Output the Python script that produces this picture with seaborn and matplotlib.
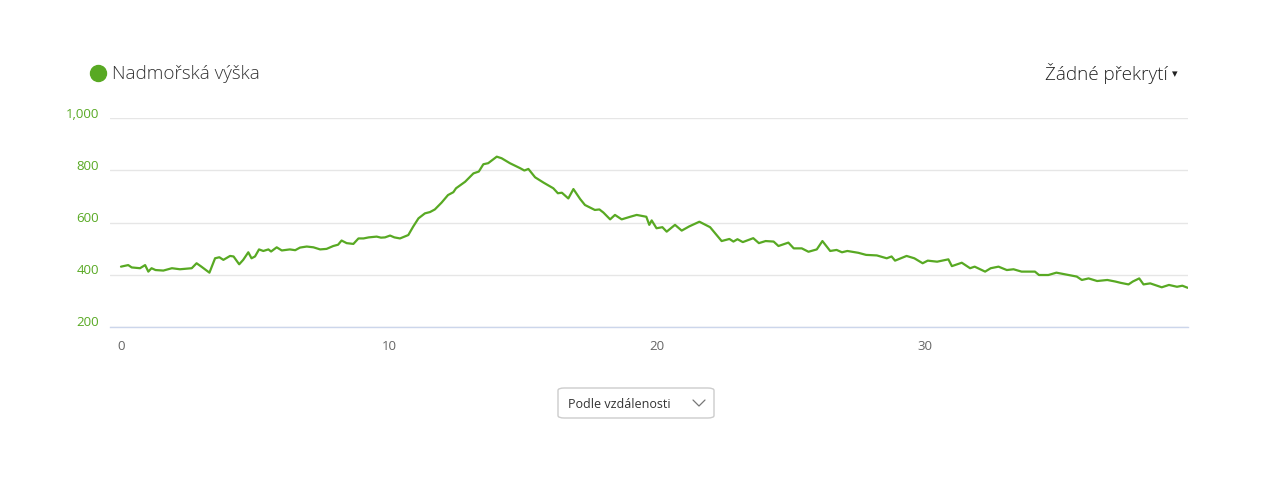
import matplotlib
matplotlib.use("Agg")
import matplotlib.pyplot as plt
from matplotlib.patches import FancyBboxPatch
from matplotlib.transforms import ScaledTranslation
import pandas as pd
import seaborn as sns

# elevation profile (km, metres)
distance_km = [
    0.0, 0.27, 0.4, 0.71, 0.9, 1.02, 1.14, 1.29, 1.58, 1.9, 2.2, 2.64, 2.82, 3.0, 3.3,
    3.51, 3.67, 3.82, 4.07, 4.2, 4.41, 4.56, 4.75, 4.87, 5.0, 5.15, 5.31, 5.5, 5.6,
    5.81, 6.0, 6.3, 6.5, 6.68, 6.93, 7.18, 7.43, 7.67, 7.92, 8.1, 8.23, 8.42, 8.67,
    8.86, 9.05, 9.24, 9.54, 9.7, 9.85, 10.04, 10.2, 10.41, 10.72, 10.9, 11.1, 11.34,
    11.53, 11.71, 11.96, 12.2, 12.4, 12.5, 12.84, 13.15, 13.35, 13.52, 13.7, 14.02,
    14.2, 14.51, 14.89, 15.05, 15.2, 15.45, 15.76, 16.13, 16.3, 16.45, 16.69, 16.88,
    17.13, 17.31, 17.5, 17.68, 17.85, 18.0, 18.25, 18.43, 18.68, 19.0, 19.24, 19.45,
    19.6, 19.71, 19.8, 19.98, 20.2, 20.36, 20.67, 20.92, 21.2, 21.58, 21.98, 22.41,
    22.7, 22.85, 23.0, 23.2, 23.59, 23.8, 24.05, 24.35, 24.53, 24.9, 25.1, 25.4,
    25.65, 25.96, 26.17, 26.46, 26.7, 26.9, 27.1, 27.51, 27.8, 28.2, 28.57, 28.75,
    28.88, 29.31, 29.6, 29.91, 30.1, 30.45, 30.87, 31.0, 31.37, 31.68, 31.85, 32.24,
    32.45, 32.74, 33.05, 33.3, 33.6, 34.1, 34.25, 34.6, 34.9, 35.15, 35.66, 35.85,
    36.1, 36.42, 36.8, 37.1, 37.3, 37.59, 37.75, 37.99, 38.15, 38.4, 38.83, 39.1,
    39.4, 39.6, 39.8,
]
elevation_m = [
    431, 437, 428, 425, 437, 412, 425, 418, 416, 425, 421, 425, 444, 431, 408,
    463, 467, 457, 472, 470, 440, 457, 486, 463, 470, 497, 491, 497, 489,
    505, 493, 497, 494, 504, 508, 505, 497, 499, 510, 515, 531, 521, 518,
    539, 539, 543, 546, 542, 543, 550, 543, 539, 552, 584, 616, 635,
    640, 650, 676, 705, 716, 731, 756, 788, 795, 823, 827, 852,
    846, 827, 808, 799, 805, 773, 753, 731, 712, 714, 692, 728,
    690, 667, 657, 648, 650, 638, 612, 629, 612, 622, 629, 625,
    622, 591, 608, 578, 582, 565, 591, 569, 585, 603, 582, 529,
    537, 527, 536, 525, 540, 521, 529, 527, 510, 523, 501, 501,
    488, 497, 529, 491, 495, 486, 491, 484, 476, 474, 463, 470,
    454, 472, 463, 444, 454, 450, 459, 433, 446, 425, 431, 412,
    425, 431, 418, 421, 412, 412, 399, 399, 408, 403, 393, 380,
    386, 376, 380, 374, 369, 363, 374, 386, 363, 367, 352, 361,
    354, 358, 350,
]
y_ticks = [200, 400, 600, 800, 1000]
y_tick_labels = ["200", "400", "600", "800", "1,000"]
x_ticks = [0, 10, 20, 30]

series_name = "Nadmořská výška"
overlay_label = "Žádné překrytí"
button_label = "Podle vzdálenosti"

green = "#58a923"
profile = pd.DataFrame({"km": distance_km, "elev": elevation_m})

sns.set_theme(style="white")
plt.rcParams["font.family"] = ["Open Sans", "DejaVu Sans"]

fig = plt.figure(figsize=(12.67, 4.88), dpi=100)
ax = fig.add_axes([110 / 1267, 1 - 327 / 488, (1188 - 110) / 1267, (327 - 118) / 488])

sns.lineplot(data=profile, x="km", y="elev", ax=ax, color=green, linewidth=1.6)

ax.set_xlim(-0.41, 39.81)
ax.set_ylim(200, 1000)
ax.set_yticks(y_ticks)
ax.set_yticklabels(y_tick_labels)
ax.set_xticks(x_ticks)
ax.set_xlabel("")
ax.set_ylabel("")
ax.grid(axis="y", color="#e6e6e6", linewidth=1)
ax.grid(axis="x", visible=False)
for side in ["top", "right", "left"]:
    ax.spines[side].set_visible(False)
ax.spines["bottom"].set_color("#ccd6eb")
ax.spines["bottom"].set_linewidth(1)
ax.tick_params(axis="y", length=0, pad=8, labelsize=9.5, labelcolor=green)
ax.tick_params(axis="x", length=0, pad=9, labelsize=9.5, labelcolor="#666666")
shift_up = ScaledTranslation(0, 4 / 100, fig.dpi_scale_trans)
for lbl in ax.get_yticklabels():
    lbl.set_verticalalignment("center")
    lbl.set_transform(lbl.get_transform() + shift_up)

# legend and overlay selector
fig.add_artist(plt.Line2D([98 / 1267], [1 - 73 / 488], marker="o", markersize=11.5,
                          color=green, linestyle="none", transform=fig.transFigure))
fig.text(112 / 1267, 1 - 74 / 488, series_name, fontsize=13.6, color="#333333",
         fontweight="light", va="center", ha="left")
fig.text(1168 / 1267, 1 - 73 / 488, overlay_label, fontsize=13.6, color="#222222",
         fontweight="light", va="center", ha="right")
fig.text(1175 / 1267, 1 - 74 / 488, "▾", fontsize=8, color="#222222", va="center",
         ha="center", family=["DejaVu Sans"])

# sort button
box = FancyBboxPatch((558 / 1267, 1 - 418 / 488), 156 / 1267, 30 / 488,
                     boxstyle="round,pad=0,rounding_size=0.005", transform=fig.transFigure,
                     facecolor="white", edgecolor="#cccccc", linewidth=1)
fig.patches.append(box)
fig.text(568 / 1267, 1 - 404 / 488, button_label, fontsize=9, color="#333333",
         va="center", ha="left")
fig.add_artist(plt.Line2D([693 / 1267, 699 / 1267, 705 / 1267],
                          [1 - 400 / 488, 1 - 406 / 488, 1 - 400 / 488],
                          transform=fig.transFigure, color="#777777", linewidth=0.9))

fig.savefig("out.png", dpi=100)
